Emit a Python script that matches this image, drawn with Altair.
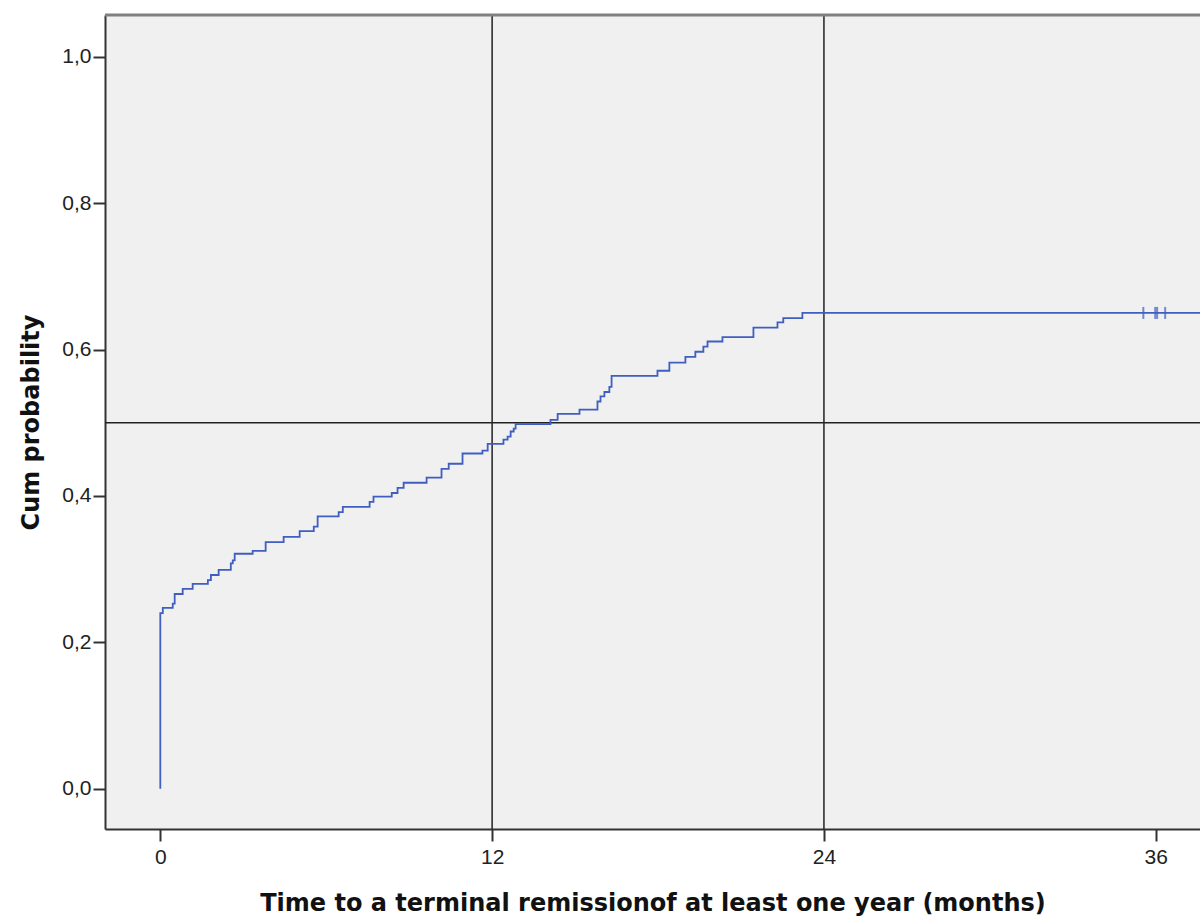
import altair as alt
import pandas as pd

# Kaplan-Meier style cumulative probability (step function)
times = [0, 0, 0.09, 0.45, 0.52, 0.81, 1.17, 1.72, 1.83, 2.11, 2.55,
         2.62, 2.69, 3.34, 3.81, 4.46, 5.04, 5.55, 5.69, 6.45, 6.60,
         7.57, 7.71, 8.37, 8.58, 8.80, 9.63, 10.17, 10.43, 10.93, 11.65,
         11.84, 12.41, 12.56, 12.67, 12.78, 12.85, 14.11, 14.37, 15.16, 15.81,
         15.92, 16.06, 16.24, 16.32, 17.98, 18.41, 18.99, 19.35, 19.64, 19.79,
         20.33, 21.45, 22.32, 22.53, 23.22, 39.0]
cumprob = [0.0, 0.240, 0.247, 0.253, 0.266, 0.273, 0.280, 0.285, 0.292, 0.299, 0.308,
           0.312, 0.321, 0.325, 0.337, 0.344, 0.352, 0.358, 0.372, 0.378, 0.385,
           0.392, 0.399, 0.404, 0.411, 0.418, 0.425, 0.437, 0.444, 0.458, 0.462,
           0.471, 0.477, 0.481, 0.488, 0.492, 0.498, 0.504, 0.512, 0.518, 0.529,
           0.536, 0.542, 0.549, 0.564, 0.571, 0.582, 0.590, 0.597, 0.604, 0.611,
           0.617, 0.630, 0.637, 0.643, 0.650, 0.650]

censor_times = [35.55, 35.98, 36.05, 36.34]
censor_probs = [0.650, 0.650, 0.650, 0.650]

ref_x = [12, 24]
ref_y = [0.5]

x_ticks = [0, 12, 24, 36]
y_ticks = [0.0, 0.2, 0.4, 0.6, 0.8, 1.0]

X_DOMAIN = [-2.0, 37.6]
Y_DOMAIN = [-0.055, 1.057]

LINE_COLOR = "#3F5EBF"

df = pd.DataFrame({"t": times, "p": cumprob})
cdf = pd.DataFrame({"t": censor_times, "p": censor_probs})
rx = pd.DataFrame({"x": ref_x})
ry = pd.DataFrame({"y": ref_y})
top = pd.DataFrame({"y": [Y_DOMAIN[1]]})

xscale = alt.Scale(domain=X_DOMAIN, nice=False, zero=False)
yscale = alt.Scale(domain=Y_DOMAIN, nice=False, zero=False)

xaxis = alt.Axis(
    values=x_ticks, title="Time to a terminal remissionof at least one year (months)",
    grid=False, domainColor="#333333", domainWidth=2, tickColor="#333333",
    tickWidth=2, tickSize=12, labelFontSize=21, labelColor="#222222",
    labelFont="Liberation Sans", labelPadding=5,
    titleFont="DejaVu Sans", titleFontSize=24, titleFontWeight="bold",
    titleColor="#111111", titlePadding=24,
)
yaxis = alt.Axis(
    values=y_ticks, title="Cum probability",
    labelExpr="replace(format(datum.value, '.1f'), '.', ',')",
    grid=False, domainColor="#333333", domainWidth=2, tickColor="#333333",
    tickWidth=2, tickSize=12, labelFontSize=21, labelColor="#222222",
    labelFont="Liberation Sans", labelPadding=2,
    titleFont="DejaVu Sans", titleFontSize=24, titleFontWeight="bold",
    titleColor="#111111", titlePadding=18,
)

line = alt.Chart(df).mark_line(
    interpolate="step-after", color=LINE_COLOR, strokeWidth=1.8, clip=True
).encode(
    x=alt.X("t:Q", scale=xscale, axis=xaxis),
    y=alt.Y("p:Q", scale=yscale, axis=yaxis),
    order=alt.value(0),
)

vrules = alt.Chart(rx).mark_rule(color="#222222", strokeWidth=1.5).encode(
    x=alt.X("x:Q", scale=xscale)
)
hrule = alt.Chart(ry).mark_rule(color="#222222", strokeWidth=1.5).encode(
    y=alt.Y("y:Q", scale=yscale)
)
topline = alt.Chart(top).mark_rule(color="#808080", strokeWidth=3).encode(
    y=alt.Y("y:Q", scale=yscale)
)

censor = alt.Chart(cdf).mark_tick(
    color=LINE_COLOR, orient="vertical", size=12, thickness=2
).encode(
    x=alt.X("t:Q", scale=xscale),
    y=alt.Y("p:Q", scale=yscale),
)

chart = alt.layer(vrules, hrule, topline, line, censor).properties(
    width=1095, height=814,
    padding={"left": 105, "top": 15, "right": 0, "bottom": 93},
    autosize=alt.AutoSizeParams(type="none"),
    background="white",
).configure_view(
    fill="#F0F0F0", stroke=None
)

chart.save("out.html", embed_options={"renderer": "svg", "actions": False})
